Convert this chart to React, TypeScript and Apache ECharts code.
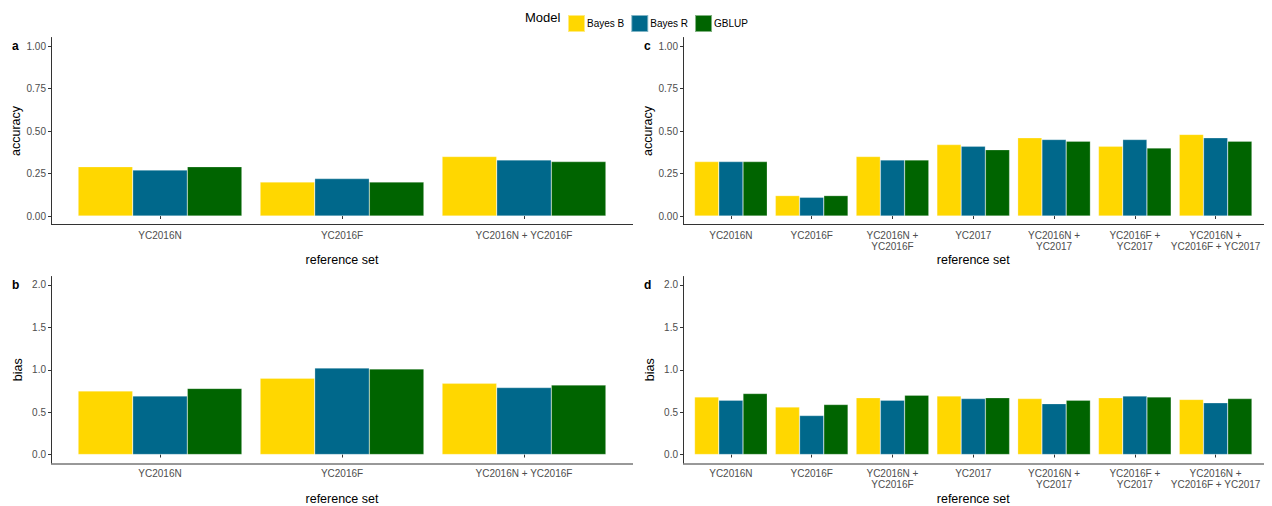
import { useEffect, useRef } from "react";
import * as echarts from "echarts";

const models = ["Bayes B", "Bayes R", "GBLUP"];
const colors = ["#FFD700", "#00688B", "#006400"];

const catsLeft = ["YC2016N", "YC2016F", "YC2016N + YC2016F"];
const catsRight = [
  "YC2016N",
  "YC2016F",
  "YC2016N +\nYC2016F",
  "YC2017",
  "YC2016N +\nYC2017",
  "YC2016F +\nYC2017",
  "YC2016N +\nYC2016F + YC2017",
];

const accA = [
  [0.29, 0.2, 0.35],
  [0.27, 0.22, 0.33],
  [0.29, 0.2, 0.32],
];
const biasB = [
  [0.75, 0.9, 0.84],
  [0.69, 1.02, 0.79],
  [0.78, 1.01, 0.82],
];
const accC = [
  [0.32, 0.12, 0.35, 0.42, 0.46, 0.41, 0.48],
  [0.32, 0.11, 0.33, 0.41, 0.45, 0.45, 0.46],
  [0.32, 0.12, 0.33, 0.39, 0.44, 0.4, 0.44],
];
const biasD = [
  [0.68, 0.56, 0.67, 0.69, 0.66, 0.67, 0.65],
  [0.64, 0.46, 0.64, 0.66, 0.6, 0.69, 0.61],
  [0.72, 0.59, 0.7, 0.67, 0.64, 0.68, 0.66],
];

const accTicks = [0, 0.25, 0.5, 0.75, 1];
const biasTicks = [0, 0.5, 1, 1.5, 2];

const font = "Liberation Sans, Arial, sans-serif";
const axisColor = "#333";

// panel geometry: band area (grid), y axis offset, top/bottom of plot
const panels = [
  { cats: catsLeft, data: accA, name: "accuracy", ticks: accTicks, fmt: (v: number) => v.toFixed(2), min: -0.05, max: 1.05, left: 69, right: 615, top: 37.5, bottom: 224.5, axisX: 51, endX: 633, letter: "a", gap: 29 },
  { cats: catsLeft, data: biasB, name: "bias", ticks: biasTicks, fmt: (v: number) => v.toFixed(1), min: -0.1, max: 2.1, left: 69, right: 615, top: 276.5, bottom: 464, axisX: 51, endX: 633, letter: "b", gap: 29 },
  { cats: catsRight, data: accC, name: "accuracy", ticks: accTicks, fmt: (v: number) => v.toFixed(2), min: -0.05, max: 1.05, left: 690.5, right: 1256, top: 37.5, bottom: 224.5, axisX: 683, endX: 1264, letter: "c", gap: 29 },
  { cats: catsRight, data: biasD, name: "bias", ticks: biasTicks, fmt: (v: number) => v.toFixed(1), min: -0.1, max: 2.1, left: 690.5, right: 1256, top: 276.5, bottom: 464, axisX: 683, endX: 1264, letter: "d", gap: 29 },
];

export default function App() {
  const ref = useRef<HTMLDivElement>(null);

  useEffect(() => {
    if (!ref.current) return;
    const chart = echarts.init(ref.current, null, { renderer: "svg" });

    const grid = panels.map(p => ({ left: p.left, width: p.right - p.left, top: p.top, height: p.bottom - p.top }));
    const xAxis = panels.map((p, i) => ({
      type: "category",
      gridIndex: i,
      data: p.cats,
      name: "reference set",
      nameLocation: "middle",
      nameGap: p.gap,
      nameTextStyle: { color: "#000", fontSize: 12.5, fontFamily: font },
      axisLine: { show: false },
      axisTick: { show: true, alignWithLabel: true, length: 3, lineStyle: { color: axisColor } },
      axisLabel: { color: "#4d4d4d", fontSize: 10, fontFamily: font, margin: 5, interval: 0, lineHeight: 11 },
    }));
    const yAxis = panels.map((p, i) => ({
      type: "value",
      gridIndex: i,
      min: p.min,
      max: p.max,
      offset: p.left - p.axisX,
      name: p.name,
      nameLocation: "middle",
      nameGap: 27,
      nameTextStyle: { color: "#000", fontSize: 12.5, fontFamily: font },
      splitLine: { show: false },
      axisLine: { show: true, lineStyle: { color: axisColor } },
      axisTick: { show: true, length: 3, customValues: p.ticks, lineStyle: { color: axisColor } },
      axisLabel: { color: "#4d4d4d", fontSize: 10, fontFamily: font, margin: 5, customValues: p.ticks, formatter: p.fmt },
    }));

    const series: any[] = [];
    panels.forEach((p, i) => {
      models.forEach((m, k) => {
        series.push({
          name: m,
          type: "bar",
          xAxisIndex: i,
          yAxisIndex: i,
          data: p.data[k],
          barCategoryGap: "10%",
          barGap: "0%",
          itemStyle: { color: colors[k], borderColor: "rgba(255,255,255,0.5)", borderWidth: 0.5 },
        });
      });
    });

    const graphic: any[] = [];
    panels.forEach(p => {
      graphic.push({
        type: "line",
        shape: { x1: p.axisX, y1: p.bottom, x2: p.endX, y2: p.bottom },
        style: { stroke: axisColor, lineWidth: 1 },
      });
      graphic.push({
        type: "text",
        x: p.axisX - 39,
        y: p.top + 2,
        style: { text: p.letter, font: `bold 12px ${font}`, fill: "#000" },
      });
    });
    graphic.push({
      type: "text",
      x: 525,
      y: 11,
      style: { text: "Model", font: `13px ${font}`, fill: "#000" },
    });

    chart.setOption({
      animation: false,
      backgroundColor: "#fff",
      textStyle: { fontFamily: font },
      legend: {
        data: models,
        left: 562,
        top: 9,
        itemWidth: 17,
        itemHeight: 17,
        itemGap: 6,
        icon: "rect",
        textStyle: { fontSize: 10, color: "#000", fontFamily: font, padding: [0, 0, 0, -3] },
      },
      grid,
      xAxis,
      yAxis,
      series,
      graphic,
    });

    return () => chart.dispose();
  }, []);

  return <div ref={ref} style={{ width: 1272, height: 506, position: "absolute", left: 0, top: 0 }} />;
}
